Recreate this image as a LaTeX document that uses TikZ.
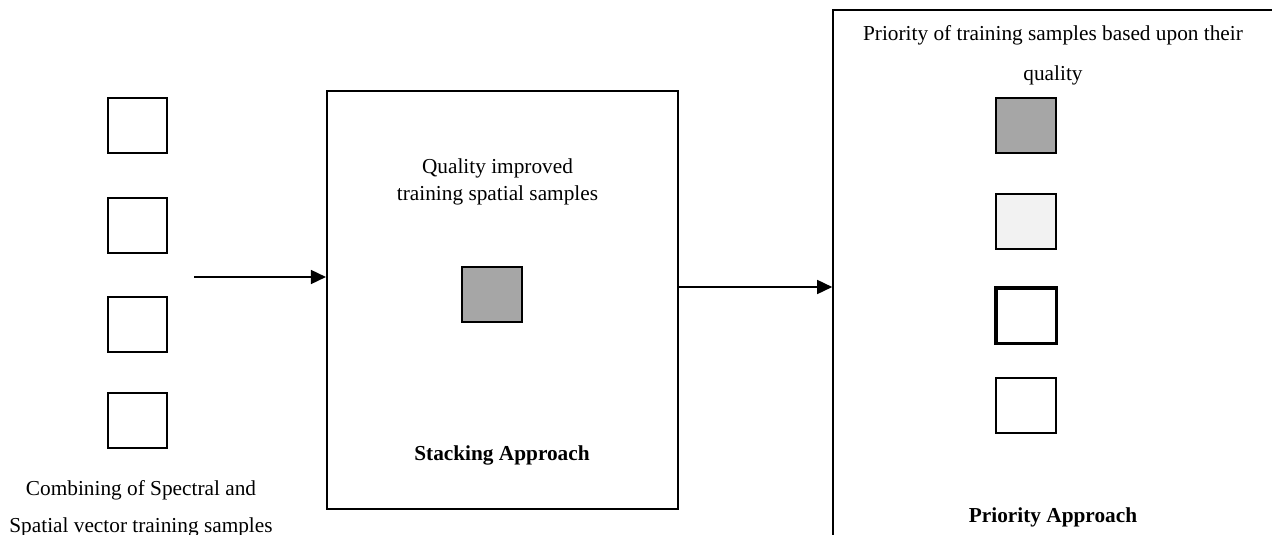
\documentclass[tikz,border=0pt]{standalone}
\usepackage{fontspec}
\setmainfont{Liberation Serif}
\usetikzlibrary{arrows.meta}
\definecolor{boxgray}{HTML}{A6A6A6}
\definecolor{lightgray}{HTML}{F2F2F2}
\begin{document}
\begin{tikzpicture}[x=1pt,y=-1pt,
  sample/.style={draw=black, line width=1.6pt, minimum width=59.5pt, minimum height=55.5pt, inner sep=0pt},
  bigbox/.style={draw=black, line width=1.6pt, inner sep=0pt},
  lbl/.style={align=center, inner sep=0pt, font=\fontsize{21.3}{27}\selectfont},
  conn/.style={line width=1.6pt, -{Triangle[length=15pt,width=14pt]}}]
\useasboundingbox[fill=white] (0,0) rectangle (1272,535);
% left samples
\node[sample] (l1) at (137.5,125.5) {};
\node[sample] (l2) at (137.5,225.5) {};
\node[sample] (l3) at (137.5,324.5) {};
\node[sample] (l4) at (137.5,420.5) {};
\node[lbl, font=\fontsize{21.3}{37}\selectfont] (ltext) at (141,509) {Combining of Spectral and\\Spatial vector training samples};
% middle box
\node[bigbox, minimum width=351.5pt, minimum height=418.5pt] (mid) at (502.5,300) {};
\node[lbl] (qtext) at (497.5,182) {Quality improved\\training spatial samples};
\node[sample, fill=boxgray, minimum width=60.5pt] (midsq) at (492,294.5) {};
\node[lbl, font=\fontsize{21.3}{27}\selectfont\bfseries] (stack) at (502,455.5) {Stacking Approach};
% right box
\node[bigbox, anchor=north west, minimum width=480pt, minimum height=560pt] (prio) at (832.2,9.2) {};
\node[lbl, font=\fontsize{21.3}{40}\selectfont] (ptext) at (1053,55.5) {Priority of training samples based upon their\\quality};
\node[sample, fill=boxgray, minimum width=60.5pt] (r1) at (1026,125.5) {};
\node[sample, fill=lightgray, minimum width=60.5pt] (r2) at (1026,221.5) {};
\node[sample, line width=3.5pt, minimum width=60.5pt, minimum height=55.5pt] (r3) at (1026,315.5) {};
\node[sample, minimum width=60.5pt] (r4) at (1026,405.5) {};
\node[lbl, font=\fontsize{21.3}{27}\selectfont\bfseries] (papp) at (1053,517.5) {Priority Approach};
% connectors
\coordinate (inA) at (194,277);
\coordinate (outy) at (0,287);
\draw[conn] (inA) -- (inA -| mid.west);
\draw[conn] (mid.east |- outy) -- (prio.west |- outy);
\end{tikzpicture}
\end{document}
